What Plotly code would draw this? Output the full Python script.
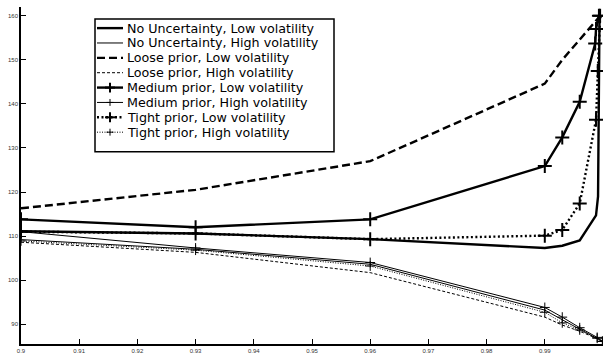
import plotly.graph_objects as go

# ---------------- data ----------------
x_base = [0.9, 0.93, 0.96, 0.99, 0.993, 0.996, 0.999, 0.9999]

x_nounc_low = [0.9, 0.93, 0.96, 0.99, 0.993, 0.996, 0.9988, 0.99915, 0.9994]
y_nounc_low = [111.1, 110.6, 109.3, 107.3, 107.8, 109.0, 114.7, 119.0, 160.0]

y_nounc_high = [109.2, 107.0, 103.6, 93.2, 91.0, 88.9, 86.9, 86.1]

x_loose_low = [0.9, 0.93, 0.96, 0.99, 0.993, 0.996, 0.9992, 0.9999]
y_loose_low = [116.3, 120.5, 127.0, 144.6, 150.0, 154.5, 159.5, 160.0]

y_loose_high = [108.6, 106.3, 101.7, 91.6, 89.8, 88.4, 86.7, 86.0]

x_medium_low = [0.9, 0.93, 0.96, 0.99, 0.993, 0.996, 0.99866, 0.9988, 0.9993]
y_medium_low = [113.8, 112.0, 113.8, 125.9, 132.4, 140.5, 153.7, 157.0, 160.0]

y_medium_high = [111.0, 107.3, 104.0, 93.8, 91.6, 89.2, 87.0, 86.1]

x_tight_low = [0.9, 0.93, 0.96, 0.99, 0.993, 0.996, 0.9988, 0.9991, 0.9995]
y_tight_low = [111.0, 110.6, 109.3, 110.1, 111.4, 117.4, 136.4, 147.5, 160.0]

y_tight_high = [108.9, 106.8, 103.2, 92.7, 90.3, 88.7, 86.8, 86.1]

x_ticks = [0.9, 0.91, 0.92, 0.93, 0.94, 0.95, 0.96, 0.97, 0.98, 0.99, 1.0]
x_ticktext = ["0.9", "0.91", "0.92", "0.93", "0.94", "0.95", "0.96", "0.97", "0.98", "0.99", "1"]
y_ticks = [90, 100, 110, 120, 130, 140, 150, 160]

names = ["No Uncertainty, Low volatility", "No Uncertainty, High volatility",
         "Loose prior, Low volatility", "Loose prior, High volatility",
         "Medium prior, Low volatility", "Medium prior, High volatility",
         "Tight prior, Low volatility", "Tight prior, High volatility"]

# ---------------- styles ----------------
THICK, THIN = 2.4, 1.0
styles = [
    dict(width=THICK, dash="solid", marker=False),
    dict(width=THIN, dash="solid", marker=False),
    dict(width=THICK, dash="8px,4px", marker=False),
    dict(width=THIN, dash="3px,2px", marker=False),
    dict(width=THICK, dash="solid", marker=True),
    dict(width=THIN, dash="solid", marker=True),
    dict(width=THICK, dash="2px,2.5px", marker=True),
    dict(width=THIN, dash="1px,1.5px", marker=True),
]
series = [
    (x_nounc_low, y_nounc_low), (x_base, y_nounc_high),
    (x_loose_low, y_loose_low), (x_base, y_loose_high),
    (x_medium_low, y_medium_low), (x_base, y_medium_high),
    (x_tight_low, y_tight_low), (x_base, y_tight_high),
]

fig = go.Figure()
for (xs, ys), st, nm in zip(series, styles, names):
    thick = st["width"] > 1.5
    mode = "lines+markers" if st["marker"] else "lines"
    fig.add_trace(go.Scatter(
        x=xs, y=ys, name=nm, mode=mode, showlegend=False,
        line=dict(color="black", width=st["width"], dash=st["dash"]),
        marker=dict(symbol="cross-thin", size=10 if thick else 7,
                    line=dict(color="black", width=2 if thick else 1)),
    ))

W, H = 604, 355
ML, MR, MT, MB = 21, 1, 7, 8
PW, PH = W - ML - MR, H - MT - MB


def px(x):
    return (x - ML) / PW


def py(y):
    return 1 - (y - MT) / PH


shapes = []
annotations = []
# legend box
shapes.append(dict(type="rect", xref="paper", yref="paper",
                   x0=px(95), x1=px(334), y0=py(153), y1=py(19),
                   line=dict(color="black", width=1.5), fillcolor="white", layer="above"))
for i, (st, nm) in enumerate(zip(styles, names)):
    yy = 28.3 + 15 * i
    thick = st["width"] > 1.5
    shapes.append(dict(type="line", xref="paper", yref="paper",
                       x0=px(97), x1=px(123), y0=py(yy), y1=py(yy),
                       line=dict(color="black", width=st["width"], dash=st["dash"]), layer="above"))
    if st["marker"]:
        hs = 5 if thick else 3.5
        lw = 2 if thick else 1
        shapes.append(dict(type="line", xref="paper", yref="paper",
                           x0=px(110 - hs), x1=px(110 + hs), y0=py(yy), y1=py(yy),
                           line=dict(color="black", width=lw), layer="above"))
        shapes.append(dict(type="line", xref="paper", yref="paper",
                           x0=px(110), x1=px(110), y0=py(yy - hs), y1=py(yy + hs),
                           line=dict(color="black", width=lw), layer="above"))
    annotations.append(dict(xref="paper", yref="paper", x=px(124.5), y=py(yy),
                            xanchor="left", yanchor="middle", showarrow=False,
                            text=nm, font=dict(family="DejaVu Sans", size=12.7, color="black")))

fig.update_layout(
    width=W, height=H, margin=dict(l=ML, r=MR, t=MT, b=MB, pad=0),
    plot_bgcolor="white", paper_bgcolor="white",
    showlegend=False, shapes=shapes, annotations=annotations,
    xaxis=dict(range=[0.9, 1.0], tickvals=x_ticks, ticktext=x_ticktext,
               showgrid=False, zeroline=False, showline=True, linecolor="black", linewidth=1.5,
               ticks="inside", ticklen=5, tickcolor="black", tickwidth=1,
               tickfont=dict(family="Liberation Sans", size=6, color="#333")),
    yaxis=dict(range=[85.5, 162], tickvals=y_ticks,
               showgrid=False, zeroline=False, showline=True, linecolor="black", linewidth=1.5,
               ticks="inside", ticklen=5, tickcolor="black", tickwidth=1,
               tickfont=dict(family="Liberation Sans", size=6, color="#333")),
)

fig.write_html("out.html")
